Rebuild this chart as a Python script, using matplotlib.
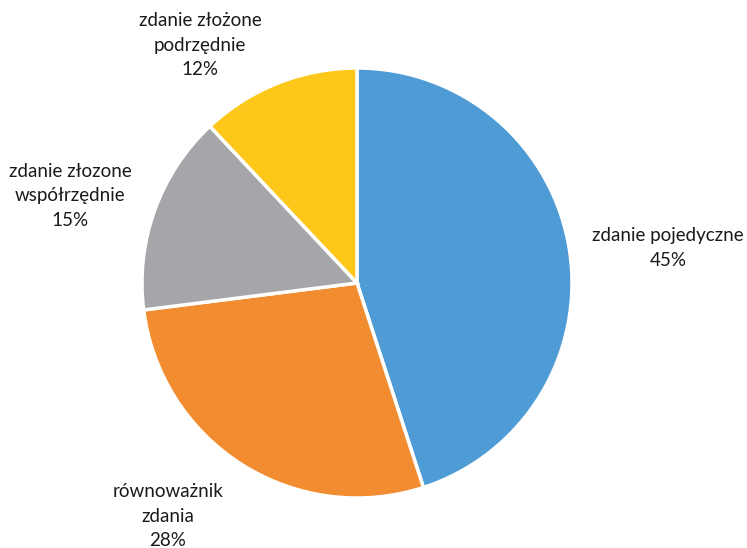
import matplotlib.pyplot as plt

# slices clockwise from 12 o'clock
labels = ['zdanie pojedyczne', 'równoważnik\nzdania',
          'zdanie złozone\nwspółrzędnie', 'zdanie złożone\npodrzędnie']
shares = [45, 28, 15, 12]
colors = ['#4E9BD5', '#F28C30', '#A5A6A9', '#FDC81A']
# label block centres in pixels (x, y from top)
label_pos = [(668, 248), (168, 516), (70, 196), (200, 45)]

W, H = 747, 548
fig = plt.figure(figsize=(W / 100, H / 100), dpi=100)
ax = fig.add_axes([0, 0, 1, 1])

ax.pie(shares, colors=colors, startangle=90, counterclock=False,
       center=(357, H - 283), radius=215, frame=True,
       wedgeprops=dict(edgecolor='white', linewidth=2.5))
ax.set_xlim(0, W)
ax.set_ylim(0, H)
ax.set_aspect('equal')
ax.axis('off')

for lab, val, (x, y) in zip(labels, shares, label_pos):
    ax.text(x, H - y, f'{lab}\n{val}%', ha='center', va='center',
            fontsize=13.5, family='Lato', color='#1a1a1a', linespacing=1.55)

fig.savefig('out.png', dpi=100)
